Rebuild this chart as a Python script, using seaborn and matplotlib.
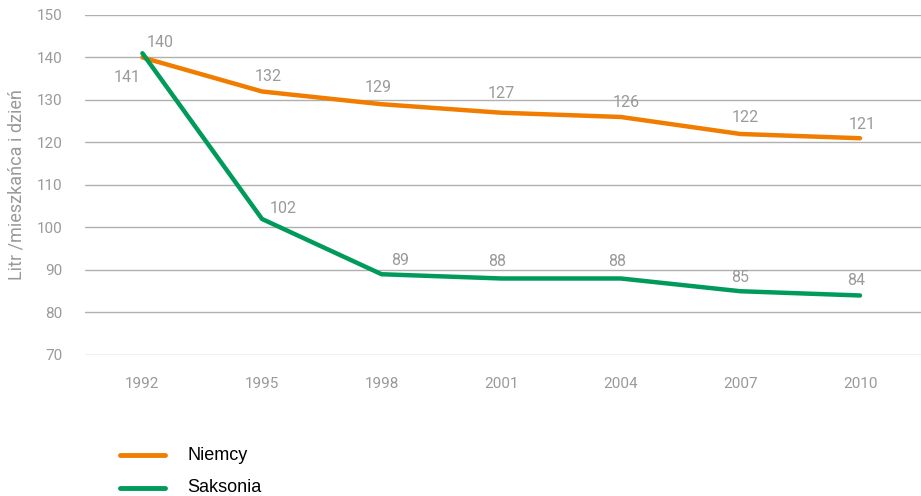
import matplotlib
matplotlib.use("Agg")
import matplotlib.pyplot as plt
import seaborn as sns
import pandas as pd

years = ["1992", "1995", "1998", "2001", "2004", "2007", "2010"]
niemcy = [140, 132, 129, 127, 126, 122, 121]
saksonia = [141, 102, 89, 88, 88, 85, 84]
series_names = ["Niemcy", "Saksonia"]
colors = {"Niemcy": "#F07D00", "Saksonia": "#009A5A"}

# label offsets in pixels (dx, dy) relative to each point
niemcy_off = [(18, 15), (6, 15), (-3, 17), (0, 19), (5, 14), (5, 16), (2, 14)]
saksonia_off = [(-15, -24), (21, 10), (18, 14), (-4, 17), (-4, 17), (0, 14), (-4, 15)]

df = pd.DataFrame({
    "rok": list(range(len(years))) * 2,
    "wartosc": niemcy + saksonia,
    "seria": [series_names[0]] * len(years) + [series_names[1]] * len(years),
})

sns.set_style("white")
plt.rcParams["font.family"] = ["Roboto", "DejaVu Sans"]

fig = plt.figure(figsize=(9.21, 4.96), dpi=100)
ax = fig.add_axes([0.0923, 0.2843, 0.9077, 0.6855])

sns.lineplot(data=df, x="rok", y="wartosc", hue="seria", palette=colors,
             linewidth=3.2, ax=ax, legend=False, zorder=3)
for line in ax.get_lines():
    line.set_solid_capstyle("round")

gray = "#9a9a9a"
for vals, offs in [(niemcy, niemcy_off), (saksonia, saksonia_off)]:
    for i, (v, o) in enumerate(zip(vals, offs)):
        ax.annotate(str(v), (i, v), xytext=o, textcoords="offset pixels",
                    ha="center", va="center", fontsize=11.5, color=gray)

ax.set_ylim(70, 150)
ax.set_xlim(-0.48, 6.51)
ax.set_yticks(range(70, 151, 10))
ax.set_xticks(range(len(years)))
ax.set_xticklabels(years)
ax.yaxis.grid(True, color="#b0b0b0", linewidth=1)
ax.tick_params(axis="both", length=0, labelsize=11, labelcolor=gray)
ax.tick_params(axis="y", pad=16)
ax.tick_params(axis="x", pad=16)
for s in ax.spines.values():
    s.set_visible(False)
ax.set_xlabel("")
ax.set_ylabel("Litr /mieszkańca i dzień", fontsize=13, color=gray, labelpad=8)

# legend drawn manually at bottom left
for k, name in enumerate(series_names):
    y = 1 - (455 + 33 * k) / 496
    fig.add_artist(plt.Line2D([120 / 921, 165 / 921], [y, y], color=colors[name],
                              linewidth=3.5, transform=fig.transFigure))
    fig.text(187 / 921, y, name, fontsize=13, color="black", va="center",
             family=["Liberation Sans", "DejaVu Sans"])

fig.savefig("out.png", dpi=100)
